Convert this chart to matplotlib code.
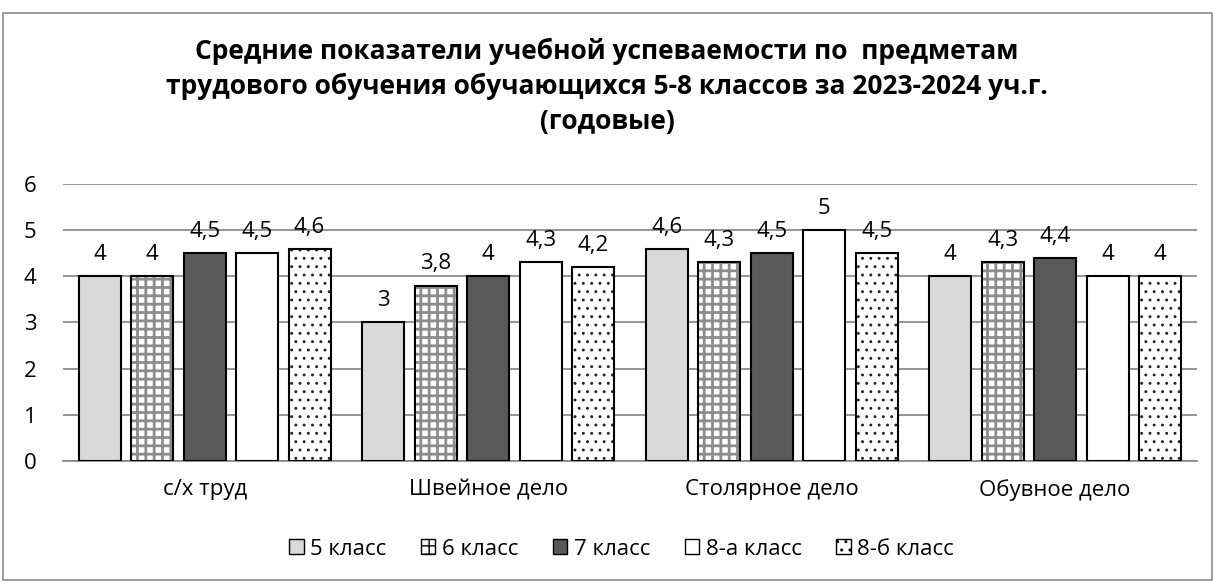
import numpy as np
import matplotlib.pyplot as plt
from matplotlib.patches import Rectangle, Patch

plt.rcParams['font.family'] = ['Open Sans', 'DejaVu Sans']

# data
subjects = ["с/х труд", "Швейное дело", "Столярное дело", "Обувное дело"]
classes = ["5 класс", "6 класс", "7 класс", "8-а класс", "8-б класс"]
grade5 = [4, 3, 4.6, 4]
grade6 = [4, 3.8, 4.3, 4.3]
grade7 = [4.5, 4, 4.5, 4.4]
grade8a = [4.5, 4.3, 5, 4]
grade8b = [4.6, 4.2, 4.5, 4]
series = [grade5, grade6, grade7, grade8a, grade8b]

# styles: face, hatch, hatch colour, hatch linewidth
styles = [
    ("#d9d9d9", None, None, 1.0),
    ("white", "++", "#8c8c8c", 2.0),
    ("#595959", None, None, 1.0),
    ("white", None, None, 1.0),
    ("white", "..", "#222222", 0.9),
]

fig = plt.figure(figsize=(12.14, 5.83), dpi=100)
fig.patches.append(Rectangle((0.0025, 0.005), 0.996, 0.9726, transform=fig.transFigure,
                             fill=False, edgecolor="#8c8c8c", linewidth=1.2))
ax = fig.add_axes([0.0519, 0.2093, 0.934, 0.4751])

x = np.arange(len(subjects))
width = 0.148
step = 0.185
for i, (vals, (fc, hatch, hc, hlw)) in enumerate(zip(series, styles)):
    pos = x + (i - 2) * step
    if hatch:
        plt.rcParams['hatch.linewidth'] = hlw
        ax.bar(pos, vals, width, color=fc, hatch=hatch, edgecolor=hc, linewidth=0, zorder=2)
        ax.bar(pos, vals, width, fill=False, edgecolor="black", linewidth=1.5, zorder=3)
    else:
        ax.bar(pos, vals, width, color=fc, edgecolor="black", linewidth=1.5, zorder=3)
    for p, v in zip(pos, vals):
        ax.text(p, v + 0.24, f"{v:g}".replace(".", ","), ha="center", va="bottom", fontsize=16)

ax.set_ylim(0, 6)
ax.set_xlim(-0.5, 3.5)
ax.set_yticks(range(7))
ax.set_xticks(x)
ax.set_xticklabels(subjects, fontsize=16)
ax.tick_params(axis="y", labelsize=16, length=0, pad=19)
ax.tick_params(axis="x", length=0, pad=13)
ax.grid(axis="y", color="#8c8c8c", linewidth=1.3, zorder=0)
ax.set_axisbelow(True)
for s in ["top", "right", "left"]:
    ax.spines[s].set_visible(False)
ax.spines["bottom"].set_color("#8c8c8c")
ax.spines["bottom"].set_linewidth(1.3)

fig.text(0.5, 0.8516, "Средние показатели учебной успеваемости по  предметам\n"
         "трудового обучения обучающихся 5-8 классов за 2023-2024 уч.г.\n(годовые)",
         ha="center", va="center", fontsize=19, fontweight="bold", linespacing=1.36)

handles = []
for fc, hatch, hc, hlw in styles:
    plt.rcParams['hatch.linewidth'] = 1.0
    handles.append(Patch(facecolor=fc, edgecolor="black", hatch=hatch, linewidth=1))
fig.legend(handles, classes, loc="center", bbox_to_anchor=(0.512, 0.058), ncol=5,
           frameon=False, fontsize=16, handlelength=0.65, handleheight=0.65,
           handletextpad=0.3, columnspacing=1.55)

fig.savefig("out.png", dpi=100)
